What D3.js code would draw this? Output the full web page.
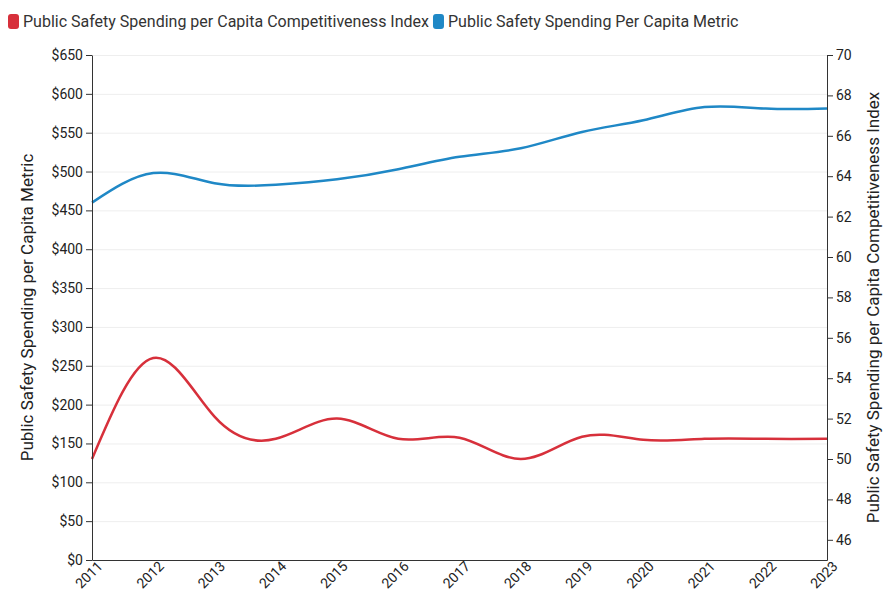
<!DOCTYPE html>
<html>
<head>
<meta charset="utf-8">
<script src="https://cdn.jsdelivr.net/npm/d3@7"></script>
<style>
  body { margin: 0; background: #fff; font-family: Roboto, "Noto Sans", sans-serif; }
  .grid line { stroke: #eeeeee; stroke-width: 1; }
  .grid .domain { display: none; }
  .axis text { font-size: 14px; fill: #222; font-family: Roboto, sans-serif; }
  .axis line, .axis path { stroke: #333; }
</style>
</head>
<body>
<svg width="884" height="592"></svg>
<script>
// ---- Data ----
const years = [2011, 2012, 2013, 2014, 2015, 2016, 2017, 2018, 2019, 2020, 2021, 2022, 2023];
const competitivenessIndex = [50, 55, 52.1, 51, 52, 51, 51.05, 50, 51.1, 50.95, 51, 51, 51];
const spendingMetric = [460, 498, 485, 483, 490, 503, 519, 530, 551, 566, 583, 581, 581];
const leftTicks = d3.range(0, 651, 50);
const rightTicks = d3.range(46, 71, 2);

const colors = { index: "#d7303b", metric: "#1f88c6" };

const svg = d3.select("svg");
const margin = { top: 55, right: 57, bottom: 32, left: 92 };
const W = 884, H = 592;
const x0 = margin.left, x1 = W - margin.right;
const y0 = H - margin.bottom, y1 = margin.top;

const x = d3.scaleLinear().domain([2011, 2023]).range([x0, x1]);
const yL = d3.scaleLinear().domain([0, 650]).range([y0, y1]);
const yR = d3.scaleLinear().domain([45, 70]).range([y0, y1]);

// gridlines
svg.append("g").attr("class", "grid")
    .attr("transform", `translate(${x0},0)`)
    .call(d3.axisLeft(yL).tickValues(leftTicks).tickSize(-(x1 - x0)).tickFormat(""));

// lines
const line = (ys, vals) => d3.line()
    .x((d, i) => x(years[i]))
    .y(d => ys(d))
    .curve(d3.curveNatural)(vals);

svg.append("path").attr("d", line(yL, spendingMetric))
    .attr("fill", "none").attr("stroke", colors.metric).attr("stroke-width", 2.5);
svg.append("path").attr("d", line(yR, competitivenessIndex))
    .attr("fill", "none").attr("stroke", colors.index).attr("stroke-width", 2.5);

// axes
svg.append("g").attr("class", "axis")
    .attr("transform", `translate(${x0},0)`)
    .call(d3.axisLeft(yL).tickValues(leftTicks).tickFormat(d => "$" + d).tickSizeOuter(0));
svg.append("g").attr("class", "axis")
    .attr("transform", `translate(${x1},0)`)
    .call(d3.axisRight(yR).tickValues(rightTicks).tickSizeOuter(0));
const xa = svg.append("g").attr("class", "axis")
    .attr("transform", `translate(0,${y0})`)
    .call(d3.axisBottom(x).tickValues(years).tickFormat(d3.format("d")).tickSize(0).tickSizeOuter(0));
xa.selectAll("text")
    .attr("text-anchor", "end")
    .attr("dx", "0.2em").attr("dy", "0.7em")
    .attr("transform", "rotate(-45)");

// axis titles
svg.append("text")
    .attr("transform", `translate(33,${(y0 + y1) / 2}) rotate(-90)`)
    .attr("text-anchor", "middle")
    .style("font-size", "17px").style("fill", "#222")
    .text("Public Safety Spending per Capita Metric");
svg.append("text")
    .attr("transform", `translate(879,${(y0 + y1) / 2}) rotate(-90)`)
    .attr("text-anchor", "middle")
    .style("font-size", "17px").style("fill", "#222")
    .text("Public Safety Spending per Capita Competitiveness Index");

// legend
const legend = [
    { name: "Public Safety Spending per Capita Competitiveness Index", color: colors.index },
    { name: "Public Safety Spending Per Capita Metric", color: colors.metric }
];
let lx = 8;
legend.forEach(l => {
    svg.append("rect").attr("x", lx).attr("y", 14).attr("width", 11).attr("height", 15)
        .attr("rx", 3).attr("fill", l.color);
    const t = svg.append("text").attr("x", lx + 15).attr("y", 27)
        .style("font-size", "16px").style("fill", "#333").text(l.name);
    lx += 15 + t.node().getComputedTextLength() + 4;
});
</script>
</body>
</html>
